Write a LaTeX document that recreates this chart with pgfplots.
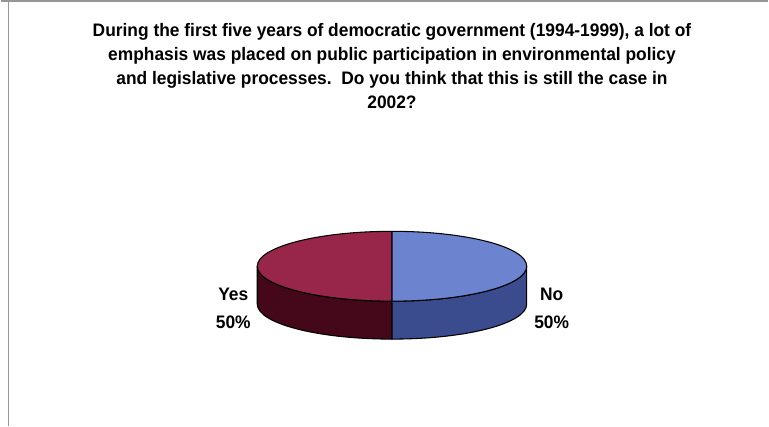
\documentclass[border=0pt]{standalone}
\usepackage{pgfplots}
\usepackage{pgfplotstable}
\pgfplotsset{compat=1.18}
\usepackage{fontspec}
\setmainfont{Liberation Sans}[FakeStretch=0.96]
\definecolor{yestop}{RGB}{152,38,74}
\definecolor{yesside}{RGB}{68,8,26}
\definecolor{notop}{RGB}{108,132,208}
\definecolor{noside}{RGB}{58,76,142}
\definecolor{frame}{RGB}{150,150,150}
\pgfplotstableread{
label value
Yes 50
No 50
}\piedata
\begin{document}
\begin{tikzpicture}
\pgfplotstablegetelem{0}{value}\of\piedata \let\yesval\pgfplotsretval
\pgfplotstablegetelem{1}{value}\of\piedata \let\noval\pgfplotsretval
\pgfmathsetmacro\yesfrac{\yesval/(\yesval+\noval)}
\pgfmathsetmacro\yesang{360*\yesfrac}
\pgfmathsetmacro\yesend{90+\yesang}
\begin{axis}[width=576.75pt,height=322.5pt,scale only axis,
  xmin=0,xmax=769,ymin=0,ymax=430,axis lines=none,clip=false]
% frame
\draw[frame,line width=1.2pt] (axis cs:0,426) -- (axis cs:769,426);
\draw[frame,line width=0.9pt] (axis cs:8,426) -- (axis cs:8,0);
% title
\node[font=\bfseries\fontsize{13.6}{18}\selectfont,align=center] at (axis cs:392,360.5)
 {During the first five years of democratic government (1994-1999), a lot of\\
  emphasis was placed on public participation in environmental policy\\
  and legislative processes.\ \ Do you think that this is still the case in\\
  2002?};
% sides
\filldraw[fill=yesside,draw=black,line width=0.8pt] (axis cs:257,160) -- (axis cs:257,122)
  arc[start angle=180,end angle=\yesend,x radius=101.25pt,y radius=26.25pt]
  -- (axis cs:392,125)
  arc[start angle=\yesend,end angle=180,x radius=101.25pt,y radius=26.25pt] -- cycle;
\filldraw[fill=noside,draw=black,line width=0.8pt] (axis cs:392,125) -- (axis cs:392,87)
  arc[start angle=\yesend,end angle=360,x radius=101.25pt,y radius=26.25pt]
  -- (axis cs:527,160)
  arc[start angle=360,end angle=\yesend,x radius=101.25pt,y radius=26.25pt] -- cycle;
% tops
\filldraw[fill=yestop,draw=black,line width=0.8pt] (axis cs:392,160) -- (axis cs:392,195)
  arc[start angle=90,end angle=\yesend,x radius=101.25pt,y radius=26.25pt] -- cycle;
\filldraw[fill=notop,draw=black,line width=0.8pt] (axis cs:392,160) -- (axis cs:392,195)
  arc[start angle=90,end angle={\yesend-360},x radius=101.25pt,y radius=26.25pt] -- cycle;
% labels
\node[font=\bfseries\fontsize{13.6}{21}\selectfont,align=center] at (axis cs:233,118) {Yes\\50\%};
\node[font=\bfseries\fontsize{13.6}{21}\selectfont,align=center] at (axis cs:552,118) {No\\50\%};
\end{axis}
\end{tikzpicture}
\end{document}
